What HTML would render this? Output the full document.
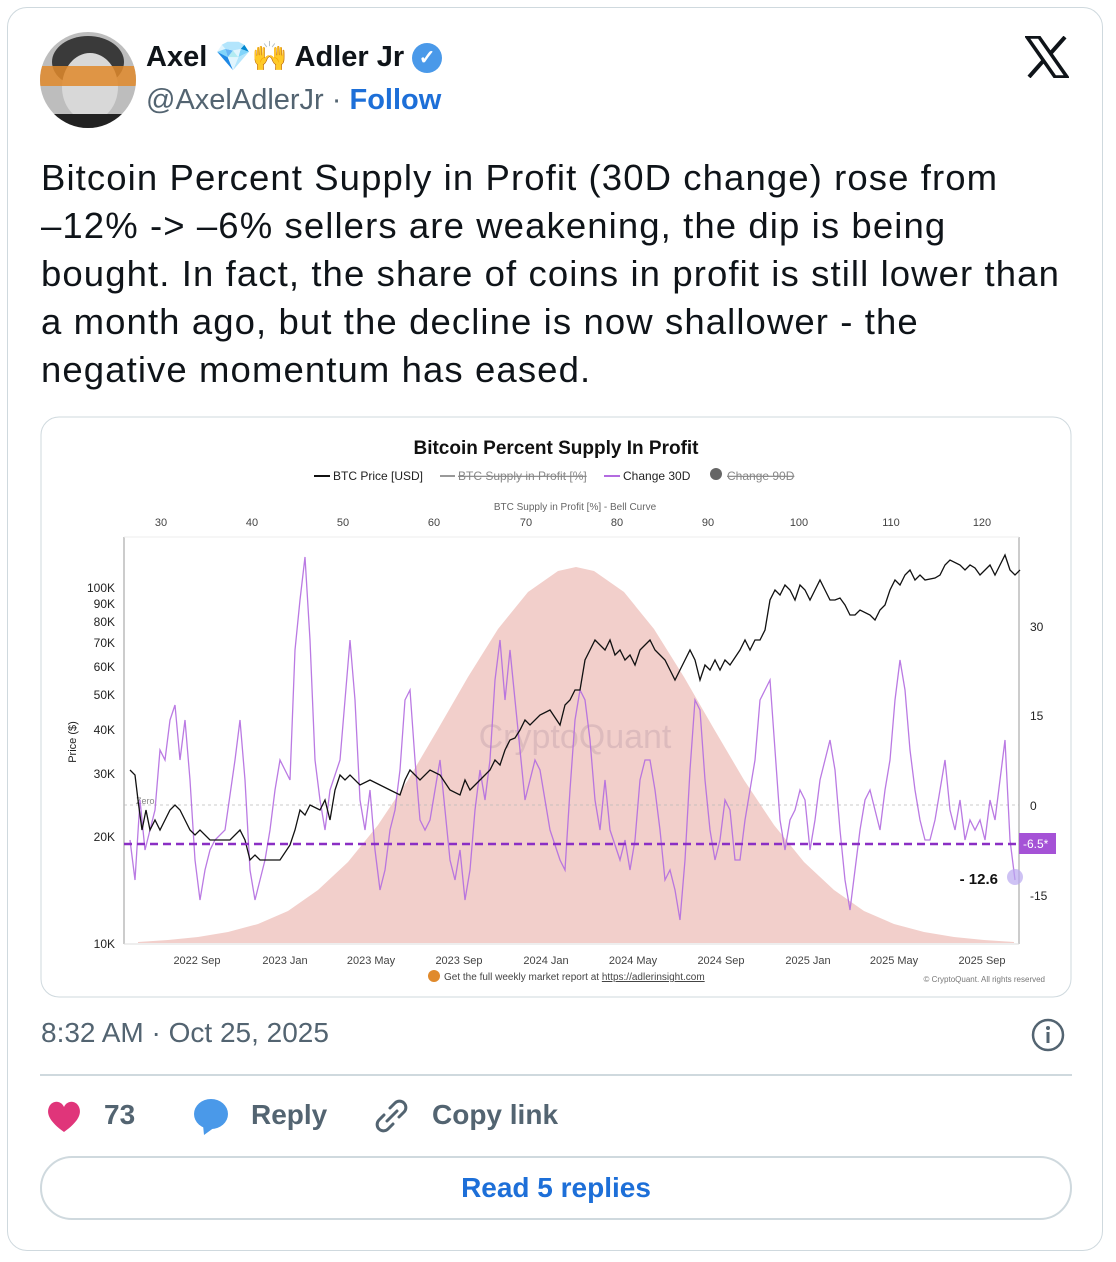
<!DOCTYPE html>
<html><head><meta charset="utf-8"><style>
body{margin:0;background:#fff;width:1116px;height:1262px;position:relative;font-family:"Liberation Sans",Arial,sans-serif;overflow:hidden}
.card{position:absolute;left:7px;top:7px;width:1096px;height:1244px;border:1px solid #cfd9de;border-radius:20px;box-sizing:border-box}
.abs{position:absolute;white-space:nowrap}
</style></head><body>
<div class="card"></div>
<svg class="abs" style="left:40px;top:32px" width="96" height="96">
<defs><clipPath id="c"><circle cx="48" cy="48" r="48"/></clipPath></defs>
<g clip-path="url(#c)"><rect width="96" height="96" fill="#bdbdbd"/><ellipse cx="48" cy="30" rx="36" ry="26" fill="#3a3a3a"/><ellipse cx="50" cy="55" rx="28" ry="34" fill="#d8d8d8"/><rect x="0" y="34" width="96" height="20" fill="#e08a2c" opacity=".85"/><rect x="0" y="82" width="96" height="14" fill="#222"/></g></svg>
<div class="abs" style="left:146px;top:40px;font-size:29px;font-weight:bold;color:#0f1419">Axel <span style="color:#5aa0e8">💎</span><span style="color:#f4c542">🙌</span> Adler Jr <span style="display:inline-block;width:30px;height:30px;border-radius:50%;background:#4a99e9;color:#fff;font-size:20px;text-align:center;line-height:30px;vertical-align:2px">✓</span></div>
<div class="abs" style="left:146px;top:84px;font-size:29px;color:#536471">@AxelAdlerJr · <b style="color:#1d6fd8">Follow</b></div>
<svg class="abs" style="left:1025px;top:36px" width="44" height="42" viewBox="0 0 44 42"><path d="M2 1h12l28 40H30z" fill="none" stroke="#0f1419" stroke-width="3.5"/><path d="M40 1L25 18M4 41l15-17" stroke="#0f1419" stroke-width="4"/></svg>
<div class="abs" style="left:41px;top:154px;font-size:36.5px;line-height:48px;letter-spacing:1.1px;color:#0f1419">Bitcoin Percent Supply in Profit (30D change) rose from<br>–12% -&gt; –6% sellers are weakening, the dip is being<br>bought. In fact, the share of coins in profit is still lower than<br>a month ago, but the decline is now shallower - the<br>negative momentum has eased.</div>

<svg class="abs" style="left:0;top:0" width="1116" height="1262" font-family="Liberation Sans, Arial, sans-serif">
<rect x="41" y="417" width="1030" height="580" rx="18" fill="#fff" stroke="#cfd9de"/>
<text x="556" y="454" text-anchor="middle" font-size="19" font-weight="bold" fill="#111">Bitcoin Percent Supply In Profit</text>
<g font-size="12" fill="#222"><line x1="314" y1="476" x2="330" y2="476" stroke="#111" stroke-width="2"/><text x="333" y="480">BTC Price [USD]</text>
<line x1="440" y1="476" x2="455" y2="476" stroke="#999" stroke-width="2"/><text x="458" y="480" fill="#888" text-decoration="line-through">BTC Supply in Profit [%]</text>
<line x1="604" y1="476" x2="620" y2="476" stroke="#b36be0" stroke-width="2"/><text x="623" y="480">Change 30D</text>
<circle cx="716" cy="474" r="6" fill="#666"/><text x="727" y="480" fill="#888" text-decoration="line-through">Change 90D</text></g>
<text x="575" y="510" text-anchor="middle" font-size="10" fill="#666">BTC Supply in Profit [%] - Bell Curve</text>
<g font-size="11" fill="#444" text-anchor="middle">
<text x="161" y="526">30</text><text x="252" y="526">40</text><text x="343" y="526">50</text><text x="434" y="526">60</text><text x="526" y="526">70</text><text x="617" y="526">80</text><text x="708" y="526">90</text><text x="799" y="526">100</text><text x="891" y="526">110</text><text x="982" y="526">120</text>
<text x="197" y="964">2022 Sep</text><text x="285" y="964">2023 Jan</text><text x="371" y="964">2023 May</text><text x="459" y="964">2023 Sep</text><text x="546" y="964">2024 Jan</text><text x="633" y="964">2024 May</text><text x="721" y="964">2024 Sep</text><text x="808" y="964">2025 Jan</text><text x="894" y="964">2025 May</text><text x="982" y="964">2025 Sep</text></g>
<g font-size="12" fill="#222" text-anchor="end">
<text x="115" y="592">100K</text><text x="115" y="608">90K</text><text x="115" y="626">80K</text><text x="115" y="647">70K</text><text x="115" y="671">60K</text><text x="115" y="699">50K</text><text x="115" y="734">40K</text><text x="115" y="778">30K</text><text x="115" y="841">20K</text><text x="115" y="948">10K</text></g>
<text transform="translate(76,742) rotate(-90)" text-anchor="middle" font-size="11" fill="#222">Price ($)</text>
<g font-size="12" fill="#222"><text x="1030" y="631">30</text><text x="1030" y="720">15</text><text x="1030" y="810">0</text><text x="1030" y="900">-15</text></g>
<path d="M138 942 L168 940 L198 937 L228 932 L258 924 L288 911 L318 890 L348 862 L378 825 L408 780 L438 729 L468 677 L498 629 L528 592 L558 571 L576 567 L594 571 L624 592 L654 629 L684 677 L714 729 L744 780 L774 825 L804 862 L834 890 L864 911 L894 924 L924 932 L954 937 L984 940 L1014 942 L1014 943 L138 943Z" fill="#f2cfcb"/>
<text x="575" y="748" text-anchor="middle" font-size="34" fill="#c9a8b0" opacity=".5">CryptoQuant</text>
<line x1="124" y1="537" x2="124" y2="944" stroke="#999"/><line x1="1019" y1="537" x2="1019" y2="944" stroke="#999"/>
<line x1="124" y1="537" x2="1019" y2="537" stroke="#eee"/><line x1="124" y1="944" x2="1019" y2="944" stroke="#ddd"/>
<line x1="124" y1="805" x2="1019" y2="805" stroke="#bbb" stroke-dasharray="3,3" stroke-width=".8"/>
<text x="136" y="804" font-size="9" fill="#888">Zero</text>
<polyline fill="none" stroke="#b36be0" stroke-width="1.3" opacity=".9" points="130,840 135,880 140,800 145,850 150,830 155,810 160,750 165,760 170,720 175,705 180,760 185,720 190,780 195,860 200,900 205,870 210,850 215,840 225,830 235,760 240,720 245,780 250,870 255,900 260,880 265,860 270,830 275,790 280,760 290,780 295,650 300,600 305,557 310,640 315,760 320,800 325,830 330,790 340,760 350,640 355,700 360,800 365,830 370,790 375,850 380,890 385,870 390,830 395,810 400,770 405,700 410,690 415,760 420,820 425,830 430,820 440,760 450,860 455,880 460,850 465,900 470,870 475,810 480,770 485,800 490,760 495,680 500,640 505,700 510,650 515,700 520,750 525,800 530,780 535,760 540,770 545,800 550,830 560,860 565,870 570,790 575,720 580,690 585,700 590,740 595,800 600,830 605,780 610,830 620,860 625,840 630,870 635,840 640,780 645,760 650,760 655,790 660,830 665,880 670,870 675,890 680,920 685,860 690,770 695,700 700,710 705,780 710,830 715,860 720,840 725,800 730,810 735,860 740,860 745,820 750,790 755,760 760,700 765,690 770,680 775,750 780,820 785,850 790,820 795,810 800,790 805,800 810,850 815,820 820,780 825,760 830,740 835,770 840,830 845,880 850,910 855,870 860,830 865,800 870,790 880,830 885,790 890,760 895,700 900,660 905,690 910,750 915,790 920,820 925,840 930,840 935,820 940,790 945,760 950,810 955,830 960,800 965,840 970,820 975,830 980,820 985,840 990,800 995,820 1000,780 1005,740 1010,840 1015,880"/>
<polyline fill="none" stroke="#111" stroke-width="1.3" points="130,770 135,775 138,800 142,830 146,810 150,830 155,820 160,830 165,820 170,810 175,805 180,810 185,820 190,830 195,835 200,830 210,840 220,840 230,840 240,830 245,840 250,860 255,855 260,860 270,860 280,860 290,845 295,830 300,810 305,815 310,805 320,810 325,800 330,820 335,790 340,775 345,780 350,775 360,785 370,780 380,785 390,790 400,795 405,780 410,770 420,780 430,770 440,775 450,790 460,795 465,780 470,790 480,780 490,770 495,760 500,765 505,750 510,740 515,738 520,730 525,720 530,725 540,715 550,710 560,725 565,705 570,700 575,690 580,690 585,660 590,650 595,640 600,645 605,650 610,640 615,655 620,650 625,660 630,655 635,665 640,650 645,645 650,640 655,650 660,655 665,660 670,670 675,680 680,670 685,660 690,650 695,660 700,680 705,665 710,670 715,660 720,670 725,660 730,665 740,650 745,640 750,650 755,640 760,640 765,630 770,600 775,590 780,595 785,585 790,590 795,600 800,585 805,590 810,600 815,590 820,580 825,590 830,600 835,600 840,598 845,605 850,615 855,615 860,610 870,615 875,620 880,610 885,605 890,590 895,580 900,585 905,575 910,570 915,580 920,575 925,580 935,578 940,575 945,565 950,560 960,565 965,570 970,565 975,568 980,575 985,570 990,565 995,575 1000,565 1005,555 1010,570 1015,575 1020,570"/>
<line x1="124" y1="844" x2="1019" y2="844" stroke="#8a2fc4" stroke-width="2.5" stroke-dasharray="8,5"/>
<rect x="1019" y="833" width="37" height="21" fill="#a552d6"/><text x="1023" y="848" font-size="12" fill="#fff">-6.5*</text>
<circle cx="1015" cy="877" r="8" fill="#b9a8f0" opacity=".7"/>
<text x="998" y="884" text-anchor="end" font-size="15" font-weight="bold" fill="#111">- 12.6</text>
<circle cx="434" cy="976" r="6" fill="#e08a2c"/>
<text x="444" y="980" font-size="10" fill="#444">Get the full weekly market report at <tspan text-decoration="underline">https://adlerinsight.com</tspan></text>
<text x="1045" y="982" text-anchor="end" font-size="8" fill="#777">© CryptoQuant. All rights reserved</text>
</svg>

<div class="abs" style="left:41px;top:1017px;font-size:28px;color:#536471">8:32 AM · Oct 25, 2025</div>
<svg class="abs" style="left:1030px;top:1017px" width="36" height="36"><circle cx="18" cy="18" r="15" fill="none" stroke="#536471" stroke-width="2.5"/><circle cx="18" cy="11" r="2" fill="#536471"/><rect x="16.5" y="15" width="3" height="11" fill="#536471"/></svg>
<div class="abs" style="left:40px;top:1074px;width:1032px;height:2px;background:#cfd9de"></div>
<svg class="abs" style="left:46px;top:1098px" width="36" height="36"><path d="M18 34 C4 24 0 16 3 9 C6 2 15 2 18 9 C21 2 30 2 33 9 C36 16 32 24 18 34Z" fill="#e0357a"/></svg>
<div class="abs" style="left:104px;top:1099px;font-size:28px;font-weight:bold;color:#536471">73</div>
<svg class="abs" style="left:191px;top:1097px" width="40" height="40"><ellipse cx="20" cy="17" rx="17" ry="15" fill="#4a99e9"/><path d="M12 28 L13 38 L24 30Z" fill="#4a99e9"/></svg>
<div class="abs" style="left:251px;top:1099px;font-size:28px;font-weight:bold;color:#536471">Reply</div>
<svg class="abs" style="left:373px;top:1097px" width="38" height="38"><g fill="none" stroke="#536471" stroke-width="3" stroke-linecap="round"><path d="M17 11 L22 6 A6 6 0 0 1 31 15 L26 20"/><path d="M20 27 L15 32 A6 6 0 0 1 6 23 L11 18"/><path d="M14 24 L24 14"/></g></svg>
<div class="abs" style="left:432px;top:1099px;font-size:28px;font-weight:bold;color:#536471">Copy link</div>
<div class="abs" style="left:40px;top:1156px;width:1032px;height:64px;border:2px solid #cfd9de;border-radius:32px;box-sizing:border-box;text-align:center;line-height:60px;font-size:28px;font-weight:bold;color:#1d6fd8">Read 5 replies</div>
</body></html>
